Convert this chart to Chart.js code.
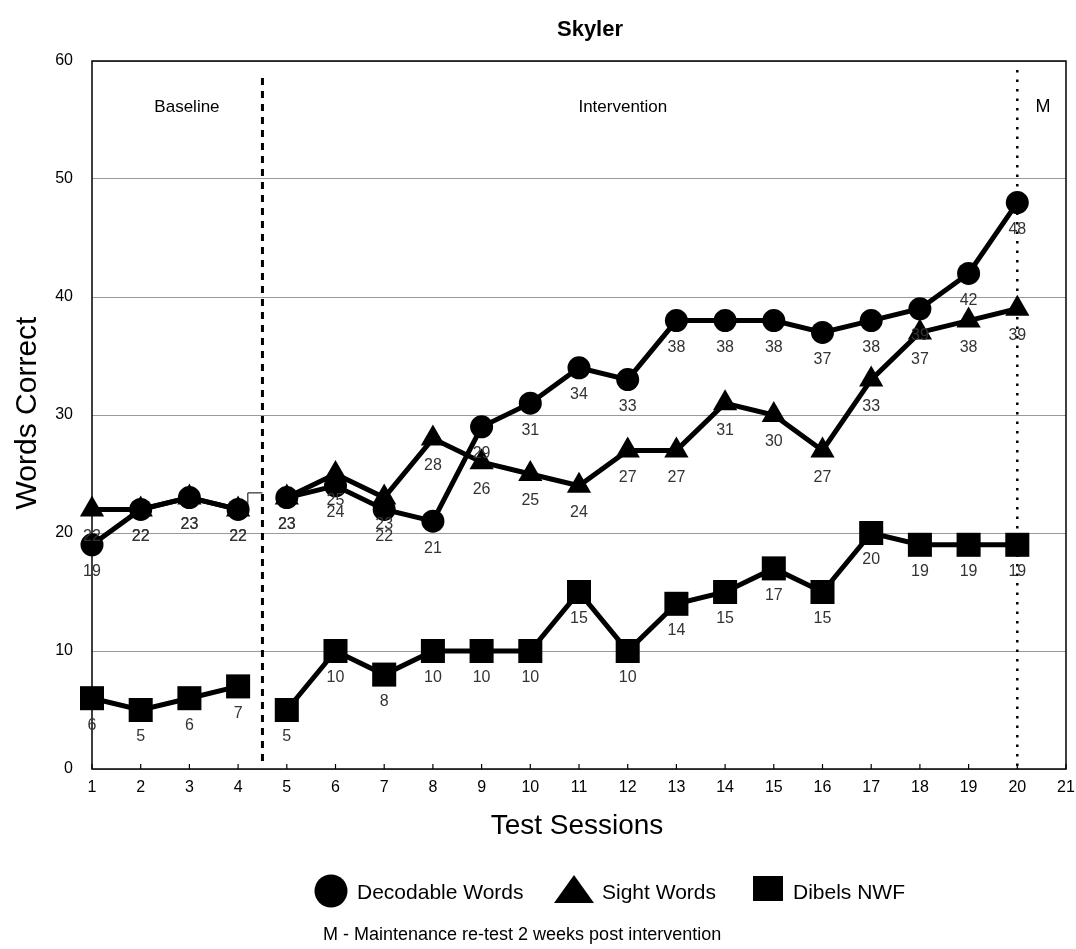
<!DOCTYPE html>
<html><head><meta charset="utf-8">
<script src="https://cdn.jsdelivr.net/npm/chart.js@4/dist/chart.umd.min.js"></script>
<style>html,body{margin:0;padding:0;background:#fff}</style>
</head><body>
<canvas id="c" width="1076" height="949"></canvas>
<script>
const sessions = [1,2,3,4,5,6,7,8,9,10,11,12,13,14,15,16,17,18,19,20];
const decodable = [19,22,23,22,23,24,22,21,29,31,34,33,38,38,38,37,38,39,42,48];
const sight     = [22,22,23,22,23,25,23,28,26,25,24,27,27,31,30,27,33,37,38,39];
const dibels    = [6,5,6,7,5,10,8,10,10,10,15,10,14,15,17,15,20,19,19,19];
const yTicks = [0,10,20,30,40,50,60];
const xTicks = [1,2,3,4,5,6,7,8,9,10,11,12,13,14,15,16,17,18,19,20,21];
const seriesNames = ['Decodable Words','Sight Words','Dibels NWF'];
const phaseNames = ['Baseline','Intervention','M'];
const phaseChanges = [4.5, 20];
const connector = [[4.2,22.4],[4.2,23.4],[4.5,23.4]];

const FONT = '"Liberation Sans", Arial, Helvetica, sans-serif';
const gapSeg = { borderColor: ctx => ctx.p0DataIndex === 3 ? 'rgba(0,0,0,0)' : undefined };
const toPts = arr => arr.map((v,i) => ({x: sessions[i], y: v}));

function mkSet(label, arr, style, radius) {
  return {
    label, data: toPts(arr), borderColor:'#000', backgroundColor:'#000',
    borderWidth: 5, pointStyle: style, pointRadius: radius, pointHoverRadius: radius,
    pointBorderWidth: 0, tension: 0, segment: gapSeg, clip: false, showLabel: true
  };
}

const overlay = {
  id: 'overlay',
  beforeDatasetsDraw(chart) {
    const {ctx, chartArea: a, scales: {x, y}} = chart;
    ctx.save();
    ctx.strokeStyle = '#000';
    ctx.lineWidth = 3;
    ctx.setLineDash([7,6]);
    let px = x.getPixelForValue(phaseChanges[0]);
    ctx.beginPath(); ctx.moveTo(px, a.top + 17); ctx.lineTo(px, a.bottom - 6); ctx.stroke();
    ctx.lineWidth = 2.5;
    ctx.setLineDash([2.5,7]);
    px = x.getPixelForValue(phaseChanges[1]);
    ctx.beginPath(); ctx.moveTo(px, a.top + 9); ctx.lineTo(px, a.bottom); ctx.stroke();
    ctx.setLineDash([]);
    ctx.lineWidth = 1;
    ctx.beginPath();
    connector.forEach((p,i) => {
      const X = x.getPixelForValue(p[0]), Y = y.getPixelForValue(p[1]);
      i ? ctx.lineTo(X,Y) : ctx.moveTo(X,Y);
    });
    ctx.stroke();
    ctx.restore();
  },
  afterDraw(chart) {
    const {ctx, chartArea: a, scales: {x, y}} = chart;
    ctx.save();
    ctx.strokeStyle = '#000';
    ctx.lineWidth = 1.5;
    ctx.strokeRect(a.left, a.top, a.right - a.left, a.bottom - a.top);
    ctx.lineWidth = 1.2;
    xTicks.forEach(v => {
      const X = x.getPixelForValue(v);
      ctx.beginPath(); ctx.moveTo(X, a.bottom); ctx.lineTo(X, a.bottom - 5); ctx.stroke();
    });
    ctx.fillStyle = '#000';
    ctx.textAlign = 'center'; ctx.textBaseline = 'middle';
    const ly = 107;
    ctx.font = '17px ' + FONT;
    ctx.fillText(phaseNames[0], x.getPixelForValue(2.95), ly);
    ctx.fillText(phaseNames[1], x.getPixelForValue(11.9), ly);
    ctx.font = '18px ' + FONT;
    ctx.fillText(phaseNames[2], x.getPixelForValue(20.53), ly);
    ctx.font = '16px ' + FONT;
    ctx.fillStyle = '#333';
    chart.data.datasets.forEach((ds, di) => {
      if (!ds.showLabel) return;
      const meta = chart.getDatasetMeta(di);
      meta.data.forEach((el, i) => {
        ctx.fillText(String(ds.data[i].y), el.x, el.y + 27);
      });
    });
    ctx.fillStyle = '#000';
    ctx.font = 'bold 22px ' + FONT;
    ctx.fillText('Skyler', 590, 30);
    ctx.font = '28px ' + FONT;
    ctx.fillText('Test Sessions', 577, 826);
    ctx.save();
    ctx.translate(28, 413); ctx.rotate(-Math.PI/2);
    ctx.font = '30px ' + FONT;
    ctx.fillText('Words Correct', 0, 0);
    ctx.restore();
    const lyg = 891;
    ctx.beginPath(); ctx.arc(331, lyg, 16.5, 0, Math.PI*2); ctx.fill();
    ctx.beginPath(); ctx.moveTo(574, 875); ctx.lineTo(594, 903); ctx.lineTo(554, 903); ctx.closePath(); ctx.fill();
    ctx.fillRect(753, 876, 30, 25);
    ctx.font = '21px ' + FONT;
    ctx.textAlign = 'left';
    ctx.fillText(seriesNames[0], 357, lyg + 2);
    ctx.fillText(seriesNames[1], 602, lyg + 2);
    ctx.fillText(seriesNames[2], 793, lyg + 2);
    ctx.font = '18px ' + FONT;
    ctx.fillText('M - Maintenance re-test 2 weeks post intervention', 323, 935);
    ctx.restore();
  }
};

new Chart(document.getElementById('c'), {
  type: 'line',
  data: {
    datasets: [
      mkSet(seriesNames[2], dibels, 'rect', 17),
      mkSet(seriesNames[0], decodable, 'circle', 11.5),
      mkSet(seriesNames[1], sight, 'triangle', 14)
    ]
  },
  options: {
    responsive: false,
    animation: false,
    devicePixelRatio: 1,
    layout: { autoPadding: false, padding: { top: 61, right: 10, left: 0, bottom: 0 } },
    plugins: { legend: { display: false }, title: { display: false }, tooltip: { enabled: false } },
    events: [],
    scales: {
      x: {
        type: 'linear', min: 1, max: 21,
        afterBuildTicks: s => { s.ticks = xTicks.map(v => ({value: v})); },
        afterFit: s => { s.height = 180; s.paddingRight = 0; s.paddingLeft = 0; },
        grid: { display: false, drawTicks: false },
        border: { display: false },
        ticks: { color: '#000', font: { size: 16, family: FONT }, padding: 9, maxRotation: 0, autoSkip: false }
      },
      y: {
        type: 'linear', min: 0, max: 60,
        afterBuildTicks: s => { s.ticks = yTicks.map(v => ({value: v})); },
        afterFit: s => { s.width = 92; s.paddingTop = 0; s.paddingBottom = 0; },
        grid: { color: '#9a9a9a', lineWidth: 1, drawTicks: false },
        border: { display: false },
        ticks: { color: '#000', font: { size: 16, family: FONT }, padding: 19 }
      }
    }
  },
  plugins: [overlay]
});
</script>
</body></html>
